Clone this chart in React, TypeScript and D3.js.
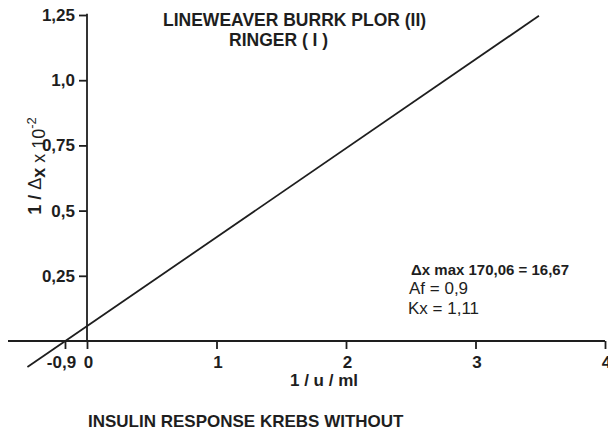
import React, { useEffect, useRef } from "react";
import * as d3 from "d3";

// tick values and their printed labels
const xTicks = [-0.17, 0, 1, 2, 3, 4];
const xTickLabels = ["-0,9", "0", "1", "2", "3", "4"];
const yTicks = [0.25, 0.5, 0.75, 1.0, 1.25];
const yTickLabels = ["0,25", "0,5", "0,75", "1,0", "1,25"];

// the fitted line (two end points)
const lineX = [-0.46, 3.49];
const lineY = [-0.1, 1.247];

const titleLines = ["LINEWEAVER BURRK PLOR (II)", "RINGER ( I )"];
const notes = ["\u0394x max 170,06 = 16,67", "Af = 0,9", "Kx = 1,11"];

const FONT = "'Liberation Sans', Arial, Helvetica, sans-serif";
const INK = "#1e1e1e";

const App = () => {
	const svgRef = useRef(null);

	useEffect(() => {
		const svg = d3.select(svgRef.current);
		svg.selectAll("*").remove();

		const x = d3.scaleLinear().domain([0, 4]).range([87, 605]);
		const y = d3.scaleLinear().domain([0, 1.25]).range([341, 15]);

		// x axis
		const xAxis = d3
			.axisBottom(x)
			.tickValues(xTicks)
			.tickSize(8)
			.tickPadding(7)
			.tickFormat((d, i) => xTickLabels[i]);

		const gx = svg.append("g").attr("transform", `translate(0,${y(0)})`).call(xAxis);
		gx.select(".domain").remove();
		gx.append("line")
			.attr("x1", x(-0.61))
			.attr("x2", x(4))
			.attr("stroke", INK)
			.attr("stroke-width", 1.8);
		gx.selectAll(".tick line").attr("stroke", INK).attr("stroke-width", 1.8);
		gx.selectAll(".tick text")
			.attr("fill", INK)
			.attr("font-size", 17)
			.attr("font-weight", "bold")
			.attr("font-family", FONT)
			.attr("dx", (d, i) => (i === 0 ? -4 : 1));

		// y axis
		const yAxis = d3
			.axisLeft(y)
			.tickValues(yTicks)
			.tickSize(8)
			.tickPadding(4)
			.tickFormat((d, i) => yTickLabels[i]);

		const gy = svg.append("g").attr("transform", `translate(${x(0)},0)`).call(yAxis);
		gy.select(".domain").remove();
		gy.append("line")
			.attr("y1", y(1.255))
			.attr("y2", y(0))
			.attr("stroke", INK)
			.attr("stroke-width", 1.8);
		gy.selectAll(".tick line").attr("stroke", INK).attr("stroke-width", 1.8);
		gy.selectAll(".tick text")
			.attr("fill", INK)
			.attr("font-size", 17)
			.attr("font-weight", "bold")
			.attr("font-family", FONT);

		// the line
		const line = d3
			.line()
			.x((d) => x(d[0]))
			.y((d) => y(d[1]));

		svg
			.append("path")
			.datum(lineX.map((v, i) => [v, lineY[i]]))
			.attr("d", line)
			.attr("fill", "none")
			.attr("stroke", INK)
			.attr("stroke-width", 1.8);

		// title
		const title = svg
			.append("g")
			.attr("font-family", FONT)
			.attr("font-weight", "bold")
			.attr("font-size", 17.5)
			.attr("fill", INK);
		title.append("text").attr("x", 163).attr("y", 26).text(titleLines[0]);
		title.append("text").attr("x", 229).attr("y", 46).text(titleLines[1]);

		// y label
		const yl = svg
			.append("text")
			.attr("transform", "translate(41,166) rotate(-90)")
			.attr("text-anchor", "middle")
			.attr("font-family", FONT)
			.attr("font-size", 18)
			.attr("fill", INK);
		yl.append("tspan").attr("font-weight", "bold").text("1 / ");
		yl.append("tspan").attr("font-weight", "normal").text("\u0394");
		yl.append("tspan").attr("font-weight", "bold").attr("dy", 4).text("x");
		yl.append("tspan").attr("font-weight", "normal").text(" x 10");
		yl.append("tspan").attr("font-size", 13).attr("dy", -9).text("-2");

		// notes
		const n = svg.append("g").attr("font-family", FONT).attr("fill", INK);
		n.append("text")
			.attr("x", 411)
			.attr("y", 275)
			.attr("font-size", 15)
			.attr("font-weight", "bold")
			.text(notes[0]);
		n.append("text").attr("x", 409).attr("y", 294).attr("font-size", 17).text(notes[1]);
		n.append("text").attr("x", 408).attr("y", 313.5).attr("font-size", 17).text(notes[2]);

		// x label and bottom caption
		svg
			.append("text")
			.attr("x", 324)
			.attr("y", 386)
			.attr("text-anchor", "middle")
			.attr("font-family", FONT)
			.attr("font-weight", "bold")
			.attr("font-size", 17)
			.attr("fill", INK)
			.text("1 / u / ml");

		svg
			.append("text")
			.attr("x", 88)
			.attr("y", 427)
			.attr("font-family", FONT)
			.attr("font-weight", "bold")
			.attr("font-size", 17)
			.attr("fill", INK)
			.text("INSULIN RESPONSE KREBS WITHOUT");
	}, []);

	return (
		<svg
			ref={svgRef}
			width="608"
			height="432"
			style={{ position: "absolute", left: 0, top: 0, background: "#fff" }}
		></svg>
	);
};

export default App;
